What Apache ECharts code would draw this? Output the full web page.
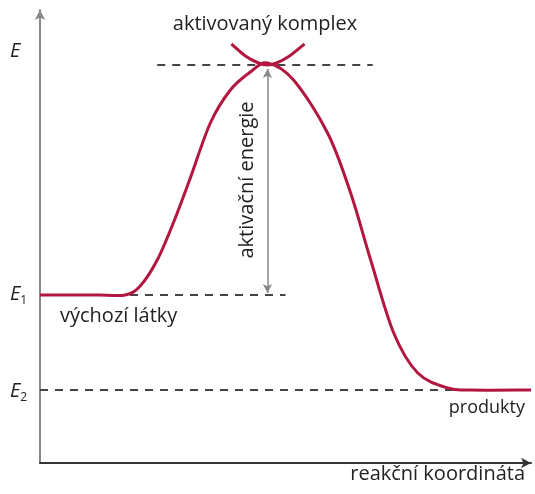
<!DOCTYPE html>
<html>
<head>
<meta charset="utf-8">
<script src="https://cdn.jsdelivr.net/npm/echarts@6/dist/echarts.min.js"></script>
<style>
  html, body { margin: 0; padding: 0; background: #fff; }
  #main { width: 535px; height: 494px; }
</style>
</head>
<body>
<div id="main"></div>
<script>
// reakční koordináta (x) a energie (y), libovolné jednotky
const pathX = [0, 60, 85, 100, 117, 133, 150, 170, 190, 210, 227, 253, 287, 310, 330, 353, 377, 407, 430, 490];
const pathY = [168, 168, 168, 177, 203, 240, 285, 340, 373, 391, 400, 383, 330, 270, 203, 130, 90, 75, 73, 73];
// oblouk aktivovaného komplexu
const arcX = [191, 205, 218, 227, 236, 249, 264];
const arcY = [419, 407, 400, 398, 400, 407, 419];
// hladiny energie
const levelPeak = 398;
const levelE1 = 168;
const levelE2 = 73;
const peakDashX = [117, 332];
const e1DashX = [0, 245];
const e2DashX = [0, 490];
const arrowX = 227;

const chart = echarts.init(document.getElementById('main'));
const red = '#b3173f';
const font = '"Open Sans", sans-serif';

const dashed = (xs, y) => ({
  type: 'line',
  data: xs.map(x => [x, y]),
  symbol: 'none',
  silent: true,
  lineStyle: { color: '#444', width: 1.8, type: [8, 7] },
  z: 1
});

// hladká křivka (Catmull-Rom -> Bezier) přes body v souřadnicích os
function splineSeries(xs, ys) {
  return {
    type: 'custom',
    silent: true,
    z: 3,
    data: xs.map((x, i) => [x, ys[i]]),
    renderItem(params, api) {
      if (params.dataIndex !== 0) return null;
      const p = xs.map((x, i) => api.coord([x, ys[i]]));
      let d = `M${p[0][0]},${p[0][1]}`;
      for (let i = 0; i < p.length - 1; i++) {
        const p0 = p[i - 1] || p[i], p1 = p[i], p2 = p[i + 1], p3 = p[i + 2] || p[i + 1];
        const c1 = [p1[0] + (p2[0] - p0[0]) / 6, p1[1] + (p2[1] - p0[1]) / 6];
        const c2 = [p2[0] - (p3[0] - p1[0]) / 6, p2[1] - (p3[1] - p1[1]) / 6];
        d += ` C${c1[0]},${c1[1]} ${c2[0]},${c2[1]} ${p2[0]},${p2[1]}`;
      }
      return {
        type: 'path',
        shape: { pathData: d },
        style: { fill: null, stroke: red, lineWidth: 3 }
      };
    }
  };
}

const option = {
  animation: false,
  grid: { left: 40, top: 10, right: 4, bottom: 31 },
  xAxis: {
    type: 'value', min: 0, max: 490,
    axisLine: { show: true, lineStyle: { color: '#333', width: 2 }, symbol: ['none', 'arrow'], symbolSize: [8, 10] },
    axisTick: { show: false }, axisLabel: { show: false }, splitLine: { show: false }
  },
  yAxis: {
    type: 'value', min: 0, max: 453,
    axisLine: { show: true, lineStyle: { color: '#888', width: 2 }, symbol: ['none', 'arrow'], symbolSize: [8, 10] },
    axisTick: { show: false }, axisLabel: { show: false }, splitLine: { show: false }
  },
  series: [
    dashed(peakDashX, levelPeak),
    dashed(e1DashX, levelE1),
    {
      ...dashed(e2DashX, levelE2),
      markLine: {
        silent: true,
        symbol: ['arrow', 'arrow'],
        symbolSize: [7, 9],
        label: { show: false },
        lineStyle: { color: '#888', width: 1.5, type: 'solid' },
        data: [[{ coord: [arrowX, levelPeak - 4] }, { coord: [arrowX, levelE1 + 2] }]]
      }
    },
    splineSeries(pathX, pathY),
    splineSeries(arcX, arcY)
  ],
  graphic: [
    { type: 'text', left: 10, top: 41, style: { text: 'E', font: 'italic 20px ' + font, fill: '#222' } },
    { type: 'text', left: 10, top: 284, style: {
      text: '{e|E}{s|1}', fill: '#222',
      rich: { e: { font: 'italic 20px ' + font }, s: { font: '12px ' + font, padding: [14, 0, 0, 0] } }
    } },
    { type: 'text', left: 10, top: 381, style: {
      text: '{e|E}{s|2}', fill: '#222',
      rich: { e: { font: 'italic 20px ' + font }, s: { font: '12px ' + font, padding: [14, 0, 0, 0] } }
    } },
    { type: 'text', x: 265, y: 24, style: { text: 'aktivovaný komplex', font: '20px ' + font, fill: '#222', align: 'center', verticalAlign: 'middle' } },
    { type: 'text', x: 247, y: 180, rotation: Math.PI / 2, style: { text: 'aktivační energie', font: '20px ' + font, fill: '#222', align: 'center', verticalAlign: 'middle' } },
    { type: 'text', left: 60, top: 306, style: { text: 'výchozí látky', font: '20px ' + font, fill: '#222' } },
    { type: 'text', right: 10, top: 399, style: { text: 'produkty', font: '18px ' + font, fill: '#222' } },
    { type: 'text', right: 10, top: 464, style: { text: 'reakční koordináta', font: '20px ' + font, fill: '#222' } }
  ]
};
chart.setOption(option);
</script>
</body>
</html>
